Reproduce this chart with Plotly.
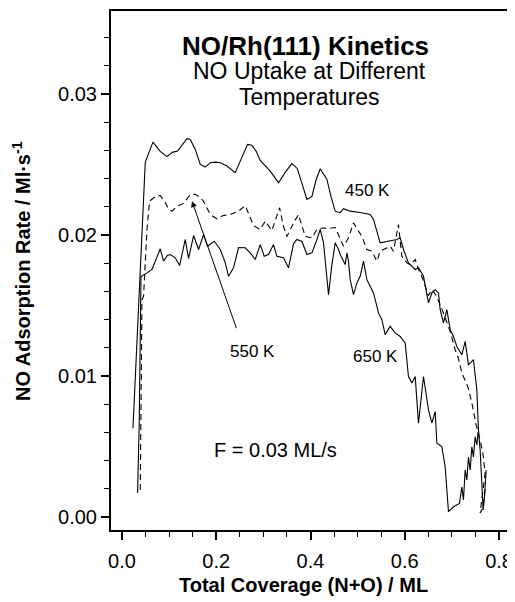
import plotly.graph_objects as go

# NO uptake curves: coverage (ML) vs rate (ML/s)
x_450 = [0.0233, 0.0373, 0.0494, 0.0657, 0.0812, 0.0954, 0.1067, 0.1179, 0.1279, 0.1379,
         0.1449, 0.1555, 0.1661, 0.1767, 0.1873, 0.1979, 0.2085, 0.2227, 0.2403, 0.2530,
         0.2664, 0.2757, 0.2848, 0.2933, 0.3039, 0.3145, 0.3321, 0.3463, 0.3605, 0.3718,
         0.3824, 0.3924, 0.4030, 0.4121, 0.4206, 0.4348, 0.4439, 0.4524, 0.4630, 0.4700,
         0.4842, 0.5054, 0.5266, 0.5336, 0.5478, 0.5654, 0.5832, 0.5902, 0.5972, 0.6078,
         0.6221, 0.6291, 0.6397, 0.6503, 0.6575, 0.6645, 0.6715, 0.6751, 0.6821, 0.6893,
         0.6963, 0.7033, 0.7105, 0.7211, 0.7281, 0.7351, 0.7457, 0.7529, 0.7563, 0.7599,
         0.7631, 0.7663, 0.7695, 0.7726]
y_450 = [0.00630, 0.01684, 0.02516, 0.02660, 0.02594, 0.02557, 0.02587, 0.02596, 0.02644, 0.02684,
         0.02679, 0.02608, 0.02502, 0.02483, 0.02514, 0.02518, 0.02514, 0.02490, 0.02443, 0.02537,
         0.02644, 0.02637, 0.02594, 0.02530, 0.02488, 0.02454, 0.02372, 0.02445, 0.02507, 0.02473,
         0.02360, 0.02253, 0.02274, 0.02395, 0.02471, 0.02395, 0.02267, 0.02170, 0.02159, 0.02187,
         0.02170, 0.02161, 0.02146, 0.02111, 0.01945, 0.01957, 0.01969, 0.01981, 0.01898, 0.01803,
         0.01756, 0.01768, 0.01708, 0.01519, 0.01590, 0.01613, 0.01590, 0.01471, 0.01377, 0.01471,
         0.01329, 0.01281, 0.01210, 0.01151, 0.01246, 0.01080, 0.01116, 0.00903, 0.00618, 0.00476,
         0.00263, 0.00050, 0.00156, 0.00334]

x_550 = [0.0388, 0.0409, 0.0424, 0.0458, 0.0530, 0.0585, 0.0706, 0.0812, 0.0918, 0.0982,
         0.1060, 0.1166, 0.1306, 0.1449, 0.1555, 0.1661, 0.1731, 0.1873, 0.2015, 0.2148,
         0.2297, 0.2473, 0.2615, 0.2791, 0.2933, 0.3039, 0.3181, 0.3343, 0.3427, 0.3499,
         0.3569, 0.3640, 0.3746, 0.3818, 0.3888, 0.4030, 0.4136, 0.4276, 0.4348, 0.4524,
         0.4594, 0.4700, 0.4806, 0.4912, 0.5018, 0.5090, 0.5196, 0.5302, 0.5408, 0.5478,
         0.5548, 0.5690, 0.5760, 0.5866, 0.5938, 0.6045, 0.6115, 0.6221, 0.6291, 0.6390,
         0.6496, 0.6581, 0.6666, 0.6751, 0.6857, 0.6963, 0.7069, 0.7133, 0.7211, 0.7281,
         0.7345, 0.7423, 0.7451, 0.7514, 0.7599, 0.7656, 0.7705, 0.7663, 0.7635, 0.7599,
         0.7663, 0.7705]
y_550 = [0.00192, 0.00832, 0.01542, 0.01566, 0.02040, 0.02241, 0.02274, 0.02281, 0.02232, 0.02189,
         0.02170, 0.02205, 0.02225, 0.02289, 0.02289, 0.02267, 0.02239, 0.02146, 0.02116, 0.02139,
         0.02146, 0.02170, 0.02210, 0.02068, 0.02040, 0.02099, 0.02033, 0.02194, 0.02063, 0.01990,
         0.02040, 0.02087, 0.02146, 0.02063, 0.01990, 0.01981, 0.02040, 0.02052, 0.02045, 0.02054,
         0.01997, 0.01921, 0.01981, 0.02087, 0.02028, 0.01992, 0.01898, 0.01886, 0.01815, 0.01886,
         0.01898, 0.01921, 0.01886, 0.02075, 0.01850, 0.01803, 0.01791, 0.01827, 0.01756, 0.01684,
         0.01571, 0.01613, 0.01571, 0.01507, 0.01414, 0.01315, 0.01187, 0.01130, 0.01023, 0.00974,
         0.00917, 0.00810, 0.00760, 0.00654, 0.00547, 0.00455, 0.00313, 0.00192, 0.00121, 0.00028,
         0.00071, 0.00206]

x_650 = [0.0331, 0.0367, 0.0403, 0.0458, 0.0530, 0.0636, 0.0742, 0.0812, 0.0882, 0.0961,
         0.1024, 0.1130, 0.1222, 0.1343, 0.1413, 0.1519, 0.1625, 0.1731, 0.1815, 0.1958,
         0.2085, 0.2191, 0.2261, 0.2367, 0.2473, 0.2615, 0.2721, 0.2827, 0.2933, 0.3018,
         0.3109, 0.3215, 0.3287, 0.3427, 0.3533, 0.3640, 0.3712, 0.3818, 0.3924, 0.4030,
         0.4136, 0.4206, 0.4276, 0.4382, 0.4454, 0.4524, 0.4594, 0.4630, 0.4736, 0.4772,
         0.4806, 0.4842, 0.4912, 0.4984, 0.5054, 0.5124, 0.5196, 0.5266, 0.5336, 0.5408,
         0.5442, 0.5514, 0.5584, 0.5690, 0.5796, 0.5902, 0.6009, 0.6078, 0.6151, 0.6221,
         0.6291, 0.6397, 0.6503, 0.6575, 0.6645, 0.6681, 0.6787, 0.6857, 0.6927, 0.7027,
         0.7160, 0.7211, 0.7245, 0.7281, 0.7317, 0.7351, 0.7387, 0.7423, 0.7457, 0.7493,
         0.7529, 0.7557]
y_650 = [0.00171, 0.00689, 0.01706, 0.01720, 0.01732, 0.01756, 0.01839, 0.01903, 0.01815, 0.01855,
         0.01862, 0.01839, 0.01784, 0.01969, 0.01834, 0.01997, 0.01898, 0.02004, 0.01921, 0.01957,
         0.01898, 0.01805, 0.01708, 0.01768, 0.01912, 0.01910, 0.01874, 0.01827, 0.01933, 0.01850,
         0.01862, 0.01933, 0.01850, 0.01839, 0.01768, 0.01940, 0.01969, 0.01955, 0.01862, 0.01874,
         0.01969, 0.02040, 0.01945, 0.01578, 0.01791, 0.01945, 0.01898, 0.01862, 0.01791, 0.01874,
         0.01815, 0.01684, 0.01578, 0.01661, 0.01708, 0.01815, 0.01684, 0.01637, 0.01590, 0.01495,
         0.01448, 0.01400, 0.01294, 0.01353, 0.01306, 0.01281, 0.01235, 0.00997, 0.00950, 0.00997,
         0.00666, 0.00997, 0.00760, 0.00666, 0.00748, 0.00524, 0.00500, 0.00357, 0.00038, 0.00071,
         0.00097, 0.00213, 0.00121, 0.00334, 0.00263, 0.00426, 0.00334, 0.00498, 0.00426, 0.00569,
         0.00512, 0.00604]

x_ticks = [0.0, 0.2, 0.4, 0.6, 0.8]
y_ticks = [0.00, 0.01, 0.02, 0.03]

FONT = "Liberation Sans, Arial, sans-serif"

fig = go.Figure()
fig.add_trace(go.Scatter(x=x_450, y=y_450, mode="lines",
                         line=dict(color="black", width=1.1)))
fig.add_trace(go.Scatter(x=x_550, y=y_550, mode="lines",
                         line=dict(color="black", width=1.1, dash="6px,4px")))
fig.add_trace(go.Scatter(x=x_650, y=y_650, mode="lines",
                         line=dict(color="black", width=1.1)))

axis_common = dict(showgrid=False, zeroline=False, showline=True, linewidth=2,
                   linecolor="black", mirror=True, ticks="outside", ticklen=8,
                   tickwidth=1.5, tickcolor="black", automargin=False,
                   tickfont=dict(family=FONT, size=20, color="black"))

fig.update_xaxes(range=[-0.0233, 0.819], tickvals=x_ticks, tickformat=".1f",
                 minor=dict(dtick=0.05, ticklen=5, ticks="outside", tickcolor="black", tickwidth=1.2),
                 ticklabelstandoff=4, **axis_common)
fig.update_yaxes(range=[-0.00092, 0.0359], tickvals=y_ticks, tickformat=".2f",
                 minor=dict(dtick=0.002, ticklen=5, ticks="outside", tickcolor="black", tickwidth=1.2),
                 ticklabelstandoff=0, **axis_common)

# labels and headings
def label(text, x, y, size, **kw):
    fig.add_annotation(x=x, y=y, text=text, showarrow=False,
                       font=dict(family=FONT, size=size, color="black"), **kw)

label("<b>NO/Rh(111) Kinetics</b>", 0.389, 0.03340, 26)
label("NO Uptake at Different", 0.397, 0.03163, 23)
label("Temperatures", 0.397, 0.02978, 23)
label("450 K", 0.520, 0.02317, 17)
label("550 K", 0.2764, 0.01173, 17)
label("650 K", 0.537, 0.01137, 17)
label("F = 0.03 ML/s", 0.325, 0.00476, 20)

# arrow pointing to the 550 K curve
fig.add_annotation(x=0.1485, y=0.02241, ax=0.2439, ay=0.01329, axref="x", ayref="y",
                   text="", showarrow=True, arrowhead=2, arrowsize=1.2, arrowwidth=1,
                   arrowcolor="black")

# axis titles
fig.add_annotation(xref="paper", yref="paper", x=0.484, y=-0.106,
                   xanchor="center", yanchor="middle",
                   text="<b>Total Coverage (N+O) / ML</b>", showarrow=False,
                   font=dict(family=FONT, size=20, color="black"))
fig.add_annotation(xref="paper", yref="paper", x=-0.2254, y=0.498, textangle=-90,
                   xanchor="center", yanchor="middle",
                   text="<b>NO Adsorption Rate / Ml·s<sup>-1</sup></b>", showarrow=False,
                   font=dict(family=FONT, size=20, color="black"))

# page body adds an 8px offset, so the figure is sized 8px smaller
fig.update_layout(width=507, height=594, showlegend=False,
                  margin=dict(l=103, r=7, t=3, b=72, autoexpand=False),
                  plot_bgcolor="white", paper_bgcolor="white")

fig.write_html("out.html")
